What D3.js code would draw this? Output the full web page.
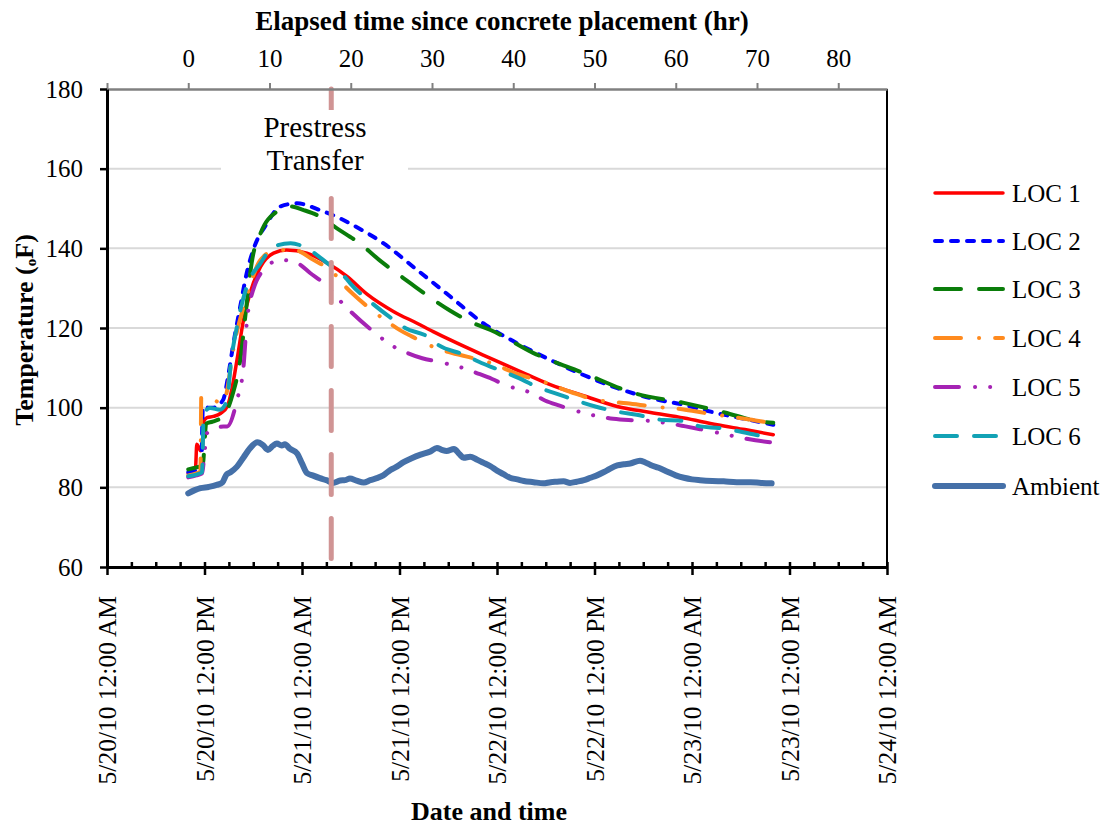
<!DOCTYPE html>
<html><head><meta charset="utf-8">
<script src="https://cdn.jsdelivr.net/npm/d3@7/dist/d3.min.js"></script>
<style>
body{margin:0;background:#fff;}
svg text{fill:#000;}
</style></head><body>
<svg id="chart" width="1112" height="827"></svg>
<script>
// elapsed hours since concrete placement, temperature (F)
const loc1 = [[0,83.5],[0.6,84],[0.9,85],[1.05,90.8],[1.3,90],[1.5,89.2],[1.75,90],[1.9,96.5],[2.3,97.5],[3.1,97.8],[4.0,98.6],[4.8,100.3],[5.4,105],[6.0,112],[6.8,122],[7.6,128.7],[8.9,135.4],[10.5,138.8],[12.1,139.6],[14.6,138.8],[17.1,136.3],[19.5,133],[22,128.5],[25.3,124.1],[28.15,121.2],[30.15,119.1],[32.25,117],[36.3,113.2],[38.4,111.3],[41.5,108.5],[44.55,105.8],[48.65,103],[52.8,100.3],[56.9,98.8],[61,97.4],[65.1,95.7],[68.5,94.5],[72,93.2]];
const loc2 = [[0,83.8],[1.0,84.2],[1.6,84.8],[1.8,100.2],[2.5,100],[3.1,100],[4.3,102],[4.9,107.8],[5.5,115.4],[6.4,125.4],[7.2,133.8],[8.0,139.6],[9.7,146.3],[11.3,150.5],[13.4,151.3],[16.2,149.6],[18.7,147.5],[20.3,145.8],[24.0,141.3],[28.15,134.6],[32.25,127.9],[36.3,121.2],[40.45,116.2],[44.55,112],[48.65,108.2],[52.8,104.9],[56.9,102.4],[61,100.7],[65.1,98.6],[69.2,96.9],[72,95.7]];
const loc3 = [[0,84.5],[1.0,85],[1.8,85.5],[2.0,91],[2.2,96],[3.0,96.5],[4.3,97.8],[5.5,103.6],[6.4,112],[7.2,126.2],[7.8,136.3],[8.9,143.8],[10.9,149.2],[12.6,150.5],[14.2,149.6],[16.2,148],[18.3,145],[19.9,142.9],[20.8,141.7],[23.8,136.6],[26.3,132.8],[27.5,131],[30.6,126.5],[32.2,124.4],[35.1,121.2],[37.2,119.5],[42.5,113.7],[48.65,108.7],[54.8,103.7],[61,101.2],[66,98.8],[70.4,96.5],[72,96.2]];
const loc4 = [[0,83],[1.0,83.5],[1.5,84],[1.6,102.8],[2.2,102.5],[3.1,102],[4.0,101.2],[4.6,102.8],[5.6,115.3],[7.2,127.9],[8.9,137.1],[10.9,139.6],[13.0,139.6],[15.4,137.1],[17.9,133.8],[19.1,130.9],[20.35,128.4],[21.8,125.8],[24.5,121.6],[26.1,119.4],[27.5,117.9],[30.6,114.9],[34.3,112.8],[36.8,111.5],[40.9,108.2],[43.7,106.5],[47,104],[50.3,101.9],[51.9,101.5],[54,101.1],[57.1,100.3],[60.8,99.6],[63.8,98.6],[66.5,97.8],[69.8,96.8],[71.8,96.1]];
const loc5 = [[0,82.5],[1.0,83],[1.7,83.5],[2.0,88.5],[2.3,93.6],[3.1,94.4],[4.3,95.3],[4.8,95.3],[6.0,101.9],[6.8,110.3],[7.2,121.2],[8.0,129.6],[9.7,135.4],[11.3,137.1],[13.4,136.3],[15.0,133.8],[17.1,130.5],[18.7,126.8],[19.9,124.3],[22.8,119.1],[25.3,115.3],[26.9,113.8],[28.8,112.4],[30.6,111.6],[33.9,109.9],[35.5,108.7],[37.4,107.2],[39,105.7],[42.3,103.6],[43.9,101.8],[45.7,100.5],[47.4,99.4],[50.5,97.8],[52.3,97.2],[54.2,96.9],[56,96.8],[59.3,96],[61.2,95.3],[63,94.6],[64.7,93.9],[69.8,91.8],[71.6,91.3]];
const loc6 = [[0,82.8],[1.0,83.2],[1.7,83.8],[1.9,98.6],[2.7,99.9],[3.9,99.5],[4.8,102],[5.2,110.4],[6.0,120.4],[7.2,130.4],[8.9,136.3],[10.5,140.4],[12.6,141.3],[14.6,140],[17.1,136.3],[19.5,132.3],[19.94,131.2],[22.4,126.6],[25.3,122],[26.7,120],[29.4,117.9],[30.8,115.7],[34.1,113.2],[35.7,111.6],[39.2,108.7],[40.7,107.4],[43.3,104.9],[45.2,103.6],[48.2,101.5],[50.1,100.3],[52.8,99],[55.2,98.2],[58.5,96.9],[60.3,96.8],[63,95.3],[65.3,94.9],[69.8,93.2],[71.8,92.3]];
const ambient = [[0,78.5],[0.8,79.3],[1.5,79.8],[2.5,80.1],[3.5,80.6],[4.2,81.2],[4.7,83.2],[5.2,83.8],[6.0,85.2],[6.8,87.5],[7.6,89.8],[8.5,91.3],[9.2,90.6],[9.8,89.4],[10.4,90.4],[10.9,91],[11.5,90.5],[11.9,90.8],[12.5,89.7],[13.4,88.5],[14.0,86],[14.6,83.6],[15.3,83],[16.2,82.3],[17.0,81.8],[17.8,81.1],[18.7,81.7],[19.3,81.8],[19.9,82.2],[20.7,81.7],[21.6,81.2],[22.4,81.8],[23.2,82.3],[24.0,83],[24.9,84.4],[25.5,85],[26.5,86.3],[27.5,87.3],[28.6,88.2],[29.8,89],[30.6,89.9],[31.2,89.4],[31.8,89.1],[32.7,89.6],[33.4,88.3],[33.9,87.4],[34.7,87.7],[35.5,87],[36.3,86.2],[37.2,85.3],[38,84.2],[38.8,83.3],[39.6,82.4],[40.5,82],[41.3,81.6],[42.5,81.3],[43.7,81],[44.6,81.3],[45.4,81.4],[46.2,81.5],[47,81.1],[47.8,81.4],[48.7,81.8],[49.5,82.4],[50.3,83],[51.5,84.2],[52.8,85.5],[53.6,85.8],[54.4,86],[55.6,86.7],[56.2,86.3],[56.9,85.6],[57.9,84.9],[58.9,84],[60,83],[61,82.4],[62,82],[63,81.8],[64.5,81.6],[65.9,81.5],[67.5,81.3],[69.2,81.3],[70.5,81.1],[71.8,81]];

const seriesNames = ["LOC 1","LOC 2","LOC 3","LOC 4","LOC 5","LOC 6","Ambient"];
const seriesData = [loc1, loc2, loc3, loc4, loc5, loc6, ambient];
const yTicks = [60,80,100,120,140,160,180];
const elapsedTicks = [-10,0,10,20,30,40,50,60,70,80];
const clockTicks = [0,12,24,36,48,60,72,84,96]; // hours since 5/20/10 12:00 AM
const dateLabels = ["5/20/10 12:00 AM","5/20/10 12:00 PM","5/21/10 12:00 AM","5/21/10 12:00 PM","5/22/10 12:00 AM","5/22/10 12:00 PM","5/23/10 12:00 AM","5/23/10 12:00 PM","5/24/10 12:00 AM"];
const prestressTransfer = 17.6; // elapsed hours

const styles = [
  {color:"#ff0000", w:3.5, dash:null},
  {color:"#0000ff", w:4, dash:"7,9"},
  {color:"#0a7d0a", w:4, dash:"26,18"},
  {color:"#ff8a1e", w:4, dash:"26,18,0.1,16"},
  {color:"#a523b4", w:4, dash:"24,16,0.1,15,0.1,15"},
  {color:"#12a2b5", w:4, dash:"22,17"},
  {color:"#4570a8", w:6, dash:null}
];

const FONT = "'Liberation Serif','Times New Roman',serif";
const L = 107, R = 887, T = 89, B = 567;
const svg = d3.select("#chart");
const xE = d3.scaleLinear().domain([-10, 86]).range([L, R]);
const xC = d3.scaleLinear().domain([0, 96]).range([L, R]);
const y = d3.scaleLinear().domain([60, 180]).range([B, T]);

// gridlines
svg.append("g").selectAll("line").data(yTicks.filter(d => d > 60 && d < 180)).join("line")
  .attr("x1", L).attr("x2", R).attr("y1", d => y(d)).attr("y2", d => y(d))
  .attr("stroke", "#d9d9d9").attr("stroke-width", 2);

// series
const line = d3.line().x(d => xE(d[0])).y(d => y(d[1])).curve(d3.curveMonotoneX);
const drawOrder = [6,0,1,2,3,4,5];
drawOrder.forEach(i => {
  const s = styles[i];
  svg.append("path").datum(seriesData[i]).attr("d", line)
    .attr("fill", "none").attr("stroke", s.color).attr("stroke-width", s.w)
    .attr("stroke-linecap", "round").attr("stroke-linejoin", "round")
    .attr("stroke-dasharray", s.dash);
});

// prestress transfer line
svg.append("line").attr("x1", xE(prestressTransfer)).attr("x2", xE(prestressTransfer))
  .attr("y1", T).attr("y2", B).attr("stroke", "#d09494").attr("stroke-width", 5)
  .attr("stroke-linecap", "round").attr("stroke-dasharray", "40,24").attr("stroke-dashoffset", 18.5);

// annotation box
svg.append("rect").attr("x", 221).attr("y", 110).attr("width", 187).attr("height", 72).attr("fill", "#fff");
const ann = svg.append("text").attr("text-anchor", "middle").attr("font-size", 29).style("font-family", FONT);
ann.append("tspan").attr("x", 315).attr("y", 137).text("Prestress");
ann.append("tspan").attr("x", 315).attr("y", 170).text("Transfer");

// right border
svg.append("line").attr("x1", R).attr("x2", R).attr("y1", T).attr("y2", B).attr("stroke", "#000").attr("stroke-width", 2);

// top axis
const topAx = svg.append("g").attr("transform", `translate(0,${T})`)
  .call(d3.axisTop(xE).tickValues(elapsedTicks).tickSize(6).tickSizeOuter(0).tickPadding(16)
    .tickFormat(d => d < 0 ? "" : d));
topAx.attr("font-family", null).attr("font-size", null);
topAx.select(".domain").attr("stroke", "#808080").attr("stroke-width", 2.5);
topAx.selectAll(".tick line").attr("stroke", "#808080").attr("stroke-width", 2);
topAx.selectAll("text").attr("font-size", 25).style("font-family", FONT);

// left axis
const leftAx = svg.append("g").attr("transform", `translate(${L},0)`)
  .call(d3.axisLeft(y).tickValues(yTicks).tickSize(7).tickSizeOuter(0).tickPadding(17));
leftAx.attr("font-family", null).attr("font-size", null);
leftAx.select(".domain").attr("stroke", "#000").attr("stroke-width", 3);
leftAx.selectAll(".tick line").attr("stroke", "#000").attr("stroke-width", 2.5);
leftAx.selectAll("text").attr("font-size", 25).style("font-family", FONT);

// bottom axis minor ticks
const minor = d3.range(0, 97, 3).filter(h => h % 12 !== 0);
svg.append("g").attr("transform", `translate(0,${B})`)
  .call(d3.axisBottom(xC).tickValues(minor).tickSize(-5).tickFormat(""))
  .call(g => g.select(".domain").remove())
  .selectAll(".tick line").attr("stroke", "#000").attr("stroke-width", 2.5);

// bottom axis major
const botAx = svg.append("g").attr("transform", `translate(0,${B})`)
  .call(d3.axisBottom(xC).tickValues(clockTicks).tickSize(8).tickSizeOuter(0)
    .tickFormat((d, i) => dateLabels[i]));
botAx.attr("font-family", null).attr("font-size", null);
botAx.select(".domain").attr("stroke", "#000").attr("stroke-width", 3);
botAx.selectAll(".tick line").attr("y1", -5).attr("stroke", "#000").attr("stroke-width", 2.5);
botAx.selectAll("text").attr("font-size", 25.5).style("font-family", FONT)
  .attr("transform", "rotate(-90)").attr("text-anchor", "end")
  .attr("x", -29).attr("y", 0).attr("dy", "0.35em");

// axis titles
svg.append("text").attr("x", 502).attr("y", 30).attr("text-anchor", "middle").style("font-family", FONT)
  .attr("font-size", 27).attr("font-weight", "bold").text("Elapsed time since concrete placement (hr)");
svg.append("text").attr("x", 489).attr("y", 820).attr("text-anchor", "middle").style("font-family", FONT)
  .attr("font-size", 26).attr("font-weight", "bold").text("Date and time");
const yl = svg.append("text").attr("transform", "translate(33,330) rotate(-90)").attr("text-anchor", "middle")
  .style("font-family", FONT).attr("font-size", 26).attr("font-weight", "bold");
yl.append("tspan").text("Temperature (");
yl.append("tspan").attr("font-size", 15).attr("dy", 3).text("o");
yl.append("tspan").attr("dy", -3).text("F)");

// legend
const legY = [193, 241, 289, 338, 387, 436, 486];
seriesNames.forEach((n, i) => {
  const s = styles[i];
  svg.append("line").attr("x1", 935).attr("x2", 1003).attr("y1", legY[i]).attr("y2", legY[i])
    .attr("stroke", s.color).attr("stroke-width", s.w).attr("stroke-linecap", "round")
    .attr("stroke-dasharray", s.dash);
  svg.append("text").attr("x", 1012).attr("y", legY[i]).attr("dy", "0.35em").style("font-family", FONT)
    .attr("font-size", 25).text(n);
});
</script>
</body></html>
